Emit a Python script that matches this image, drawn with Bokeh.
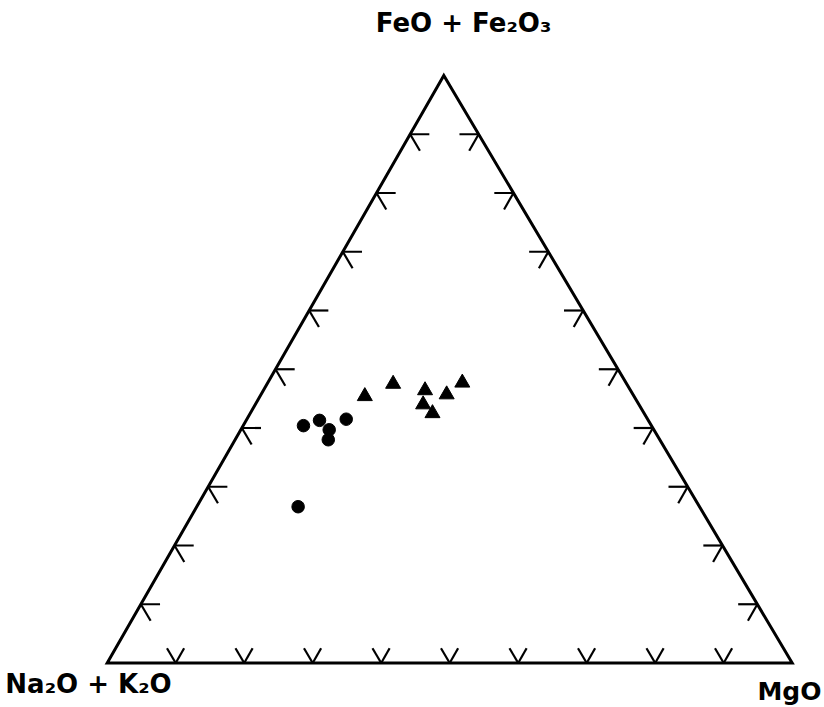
import numpy as np
from bokeh.plotting import figure
from bokeh.models import Label, Range1d
from bokeh.embed import file_html
from bokeh.resources import INLINE

# ---- data (weight percent) ----
circle_feo = [40.4, 41.3, 39.7, 38.0, 41.5, 26.6]
circle_mgo = [8.8, 10.7, 12.9, 13.6, 14.5, 14.8]
circle_alk = [50.8, 48.0, 47.4, 48.4, 44.0, 58.6]

tri_feo = [45.4, 47.5, 46.4, 44.0, 42.5, 45.7, 47.7]
tri_mgo = [15.3, 18.4, 23.6, 24.5, 26.6, 27.1, 28.4]
tri_alk = [39.3, 34.1, 30.0, 31.5, 30.9, 27.2, 23.9]

tick_values = [10, 20, 30, 40, 50, 60, 70, 80, 90]

label_top = "FeO + Fe\u2082O\u2083"
label_left = "Na\u2082O + K\u2082O"
label_right = "MgO"

# ---- ternary projection (vertex positions in plot space) ----
VA = np.array([0.0, 0.0])      # Na2O + K2O
VM = np.array([1.0, 0.0])      # MgO
VF = np.array([0.4914, 1.0])   # FeO + Fe2O3


def tern(a, m, f):
    a = np.asarray(a, float); m = np.asarray(m, float); f = np.asarray(f, float)
    t = a + m + f
    x = (a * VA[0] + m * VM[0] + f * VF[0]) / t
    y = (a * VA[1] + m * VM[1] + f * VF[1]) / t
    return x, y


W, H = 824, 707
X0, SX = 106.7, 685.0   # pixel x of Na2O+K2O vertex, base length
Y0, SY = 662.5, 587.5   # pixel y of base, triangle height

p = figure(width=W, height=H, output_backend="svg", toolbar_location=None,
           x_range=Range1d((0 - X0) / SX, (W - X0) / SX),
           y_range=Range1d((Y0 - H) / SY, Y0 / SY),
           min_border=0, min_border_left=0, min_border_right=0,
           min_border_top=0, min_border_bottom=0)
p.axis.visible = False
p.grid.visible = False
p.outline_line_color = None
p.background_fill_color = "white"

# triangle outline
vx, vy = tern([100, 0, 0], [0, 100, 0], [0, 0, 100])
p.patch(list(vx), list(vy), fill_alpha=0, line_color="black", line_width=3,
        line_join="miter")

# ticks: short stubs of the ternary grid lines
xs, ys = [], []
ds = 2.8   # side stub length (percent)
db = 2.5   # bottom stub length (percent)
for v in tick_values:
    # left edge (M = 0): F = v
    f, a = v, 100 - v
    for (a2, m2, f2) in [(a - ds, ds, f), (a, ds, f - ds)]:
        x0, y0 = tern(a, 0, f); x1, y1 = tern(a2, m2, f2)
        xs.append([float(x0), float(x1)]); ys.append([float(y0), float(y1)])
    # right edge (A = 0): F = v
    f, m = v, 100 - v
    for (a2, m2, f2) in [(ds, m - ds, f), (ds, m, f - ds)]:
        x0, y0 = tern(0, m, f); x1, y1 = tern(a2, m2, f2)
        xs.append([float(x0), float(x1)]); ys.append([float(y0), float(y1)])
    # bottom edge (F = 0): M = v
    m, a = v, 100 - v
    for (a2, m2, f2) in [(a - db, m, db), (a, m - db, db)]:
        x0, y0 = tern(a, m, 0); x1, y1 = tern(a2, m2, f2)
        xs.append([float(x0), float(x1)]); ys.append([float(y0), float(y1)])
p.multi_line(xs, ys, line_color="black", line_width=2.2)

# data points
cx, cy = tern(circle_alk, circle_mgo, circle_feo)
p.scatter(list(cx), list(cy), marker="circle", size=12.5, color="black")
tx, ty = tern(tri_alk, tri_mgo, tri_feo)
p.scatter(list(tx), list(ty), marker="triangle", size=15, color="black")


def px2d(px, py):
    return (px - X0) / SX, (Y0 - py) / SY


font = "DejaVu Sans"
for txt, (px, py), align, fs in [(label_top, (463, 22), "center", "26px"),
                                 (label_left, (88, 683), "center", "26px"),
                                 (label_right, (821, 691), "right", "25px")]:
    x, y = px2d(px, py)
    p.add_layout(Label(x=x, y=y, text=txt, text_font=font, text_font_size=fs,
                       text_font_style="bold", text_align=align,
                       text_baseline="alphabetic", text_color="black"))

open("out.html", "w").write(file_html(p, INLINE))
